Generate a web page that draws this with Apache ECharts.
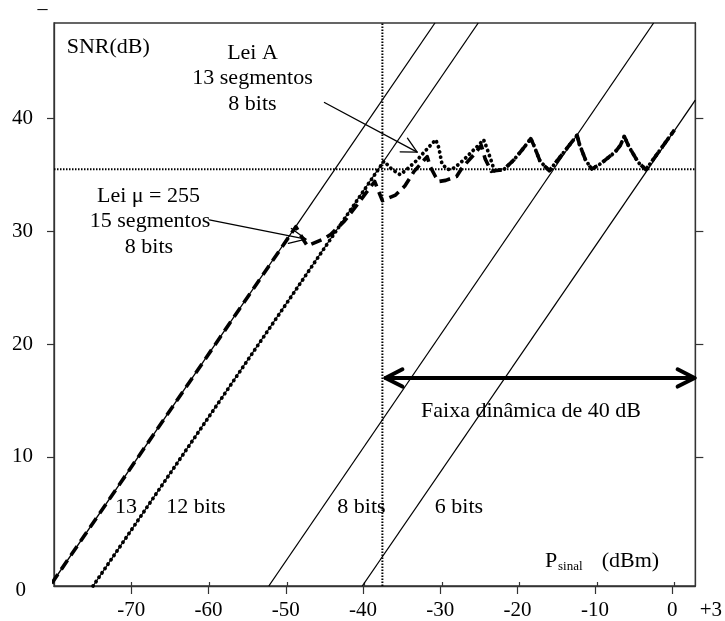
<!DOCTYPE html>
<html><head><meta charset="utf-8">
<script src="https://cdn.jsdelivr.net/npm/echarts@6/dist/echarts.min.js"></script>
<style>html,body{margin:0;padding:0;background:#fff}#c{width:725px;height:621px}</style>
</head><body><div id="c"></div>
<script>
// ---- axes ----
const X_MIN = -80, X_MAX = 3;
const Y_MIN = -1.43, Y_MAX = 48.44;
const xTickValues = [-70, -60, -50, -40, -30, -20, -10, 0];
const xLabelValues = [-70, -60, -50, -40, -30, -20, -10, 0, 3];
const yTickValues = [10, 20, 30, 40];
const yLabelValues = [Y_MIN, 10, 20, 30, 40];

// ---- uniform quantizer lines (P dBm, SNR dB) ----
const bits13 = [[-80.3, -1.2], [-30.7, 48.44]];
const bits12 = [[-74.95, -1.43], [-25.1, 48.44]];
const bits8  = [[-52.2, -1.43], [-2.4, 48.44]];
const bits6  = [[-40.1, -1.43], [3, 41.6]];

// ---- reference lines ----
const refSNR = 35.48;
const refP = -37.5;

// ---- A-law (13 segments, 8 bits) ----
const aLaw = [
  [-74.95, -1.43], [-37.3, 36.2], [-36.3, 35.5], [-35.2, 35.0],
  [-34.3, 35.5], [-33.0, 36.3], [-32.1, 37.0], [-30.6, 38.1],
  [-30.2, 37.4], [-29.8, 36.0], [-29.1, 35.45],
  [-28.2, 35.6], [-27.0, 36.3], [-25.9, 37.05], [-25.0, 37.65], [-24.4, 38.1],
  [-24.0, 37.4], [-23.4, 36.2], [-23.0, 35.35],
  [-21.8, 35.45], [-20.5, 36.3], [-19.3, 37.3], [-18.3, 38.2],
  [-17.9, 37.6], [-17.1, 36.2], [-15.9, 35.35],
  [-12.3, 38.5],
  [-12.0, 37.7], [-11.2, 36.3], [-10.4, 35.5],
  [-9.2, 36.0], [-7.4, 37.0], [-6.7, 37.6], [-6.2, 38.4],
  [-5.6, 37.5], [-4.4, 36.1], [-3.4, 35.45],
  [0.3, 38.97]
];

// ---- mu-law (mu = 255, 15 segments, 8 bits) ----
const muLaw = [
  [-80.3, -1.2], [-48.7, 30.4], [-47.6, 29.1], [-47.2, 28.7],
  [-45.0, 29.35], [-44.2, 29.7], [-42.4, 30.9], [-40.7, 32.4], [-39.5, 33.5], [-38.5, 34.4],
  [-37.5, 32.7], [-35.8, 33.2], [-34.6, 34.0], [-33.4, 35.3], [-32.1, 36.3], [-31.7, 36.6],
  [-31.3, 35.7], [-30.6, 34.8], [-30.2, 34.4],
  [-29.3, 34.5], [-27.9, 34.85], [-27.2, 35.6], [-25.7, 36.75], [-24.7, 37.6],
  [-24.2, 36.4], [-23.4, 35.3], [-23.0, 35.35],
  [-21.8, 35.45], [-20.5, 36.3], [-19.3, 37.3], [-18.3, 38.2],
  [-17.9, 37.6], [-17.1, 36.2], [-15.9, 35.35],
  [-12.3, 38.5],
  [-12.0, 37.7], [-11.2, 36.3], [-10.4, 35.5],
  [-9.2, 36.0], [-7.4, 37.0], [-6.7, 37.6], [-6.2, 38.4],
  [-5.6, 37.5], [-4.4, 36.1], [-3.4, 35.45],
  [0.3, 38.97]
];

// ---- annotation arrows ----
const arrowLeiA  = [[-45.0, 41.4], [-33.0, 37.0]];
const arrowLeiMu = [[-59.9, 31.0], [-47.4, 29.3]];
const arrowRange = [[-37.1, 17.0], [2.9, 17.0]];

const FONT = "'Liberation Serif','Times New Roman',serif";
const INK = '#000';
const AXIS = '#333';

function thinLine(data, z) {
  return { type: 'line', data: data, showSymbol: false, symbol: 'none', silent: true, z: z || 2,
    clip: false, lineStyle: { color: INK, width: 1.3 } };
}

function arrowSeries(pts, opt) {
  return {
    type: 'custom', coordinateSystem: 'cartesian2d', xAxisIndex: 0, yAxisIndex: 0,
    silent: true, clip: false, z: 6,
    data: [[pts[0][0], pts[0][1], pts[1][0], pts[1][1]]],
    renderItem: function (params, api) {
      const a = api.coord([api.value(0), api.value(1)]);
      const b = api.coord([api.value(2), api.value(3)]);
      const st = { stroke: INK, lineWidth: opt.width, lineCap: 'round', lineJoin: 'round', fill: 'none' };
      const head = function (tip, from) {
        const ang = Math.atan2(from[1] - tip[1], from[0] - tip[0]);
        const p1 = [tip[0] + opt.len * Math.cos(ang + opt.ang), tip[1] + opt.len * Math.sin(ang + opt.ang)];
        const p2 = [tip[0] + opt.len * Math.cos(ang - opt.ang), tip[1] + opt.len * Math.sin(ang - opt.ang)];
        return { type: 'polyline', shape: { points: [p1, tip, p2] }, style: st };
      };
      const children = [{ type: 'line', shape: { x1: a[0], y1: a[1], x2: b[0], y2: b[1] }, style: st }, head(b, a)];
      if (opt.double) children.push(head(a, b));
      return { type: 'group', children: children };
    }
  };
}

const chart = echarts.init(document.getElementById('c'), null, { renderer: 'canvas' });

function txt(text, x, y, align, size) {
  return { type: 'text', x: x, y: y, silent: true,
    style: { text: text, fill: INK, font: (size || 22) + 'px ' + FONT, align: align || 'center', verticalAlign: 'middle' } };
}

const gridRect = { left: 54, right: 27, top: 23, bottom: 35 };

chart.setOption({
  animation: false,
  backgroundColor: '#fff',
  grid: [
    Object.assign({ show: true, borderColor: AXIS, borderWidth: 1.3, containLabel: false }, gridRect),
    Object.assign({ show: false, containLabel: false }, gridRect)
  ],
  xAxis: [
    { type: 'value', gridIndex: 0, min: X_MIN, max: X_MAX, position: 'bottom',
      axisLine: { show: true, onZero: false, lineStyle: { color: AXIS, width: 1.3 } },
      axisTick: { show: true, customValues: xTickValues, length: 8, lineStyle: { color: AXIS, width: 1.2 } },
      axisLabel: { show: true, customValues: xLabelValues, color: INK, fontFamily: FONT, fontSize: 21, margin: 14,
        formatter: function (v) { return v === 3 ? '{p|+3}' : String(v); },
        rich: { p: { fontFamily: FONT, fontSize: 21, color: INK, padding: [0, 0, 0, 31] } } },
      splitLine: { show: false } },
    { type: 'value', gridIndex: 1, min: X_MIN, max: X_MAX, position: 'bottom',
      axisLine: { show: false, onZero: false },
      axisTick: { show: true, inside: true, customValues: xTickValues, length: 4, lineStyle: { color: AXIS, width: 1.2 } },
      axisLabel: { show: false }, splitLine: { show: false } }
  ],
  yAxis: [
    { type: 'value', gridIndex: 0, min: Y_MIN, max: Y_MAX, position: 'left',
      axisLine: { show: true, onZero: false, lineStyle: { color: AXIS, width: 1.3 } },
      axisTick: { show: true, customValues: yTickValues, length: 7, lineStyle: { color: AXIS, width: 1.2 } },
      axisLabel: { show: true, customValues: yLabelValues, color: INK, fontFamily: FONT, fontSize: 21, margin: 21,
        formatter: function (v) { return Math.abs(v - Y_MIN) < 1e-6 ? '{z|0}' : String(v); },
        rich: { z: { fontFamily: FONT, fontSize: 21, color: INK, padding: [8, 7, 0, 0] } } },
      splitLine: { show: false } },
    { type: 'value', gridIndex: 0, min: Y_MIN, max: Y_MAX, position: 'right',
      axisLine: { show: true, onZero: false, lineStyle: { color: AXIS, width: 1.3 } },
      axisTick: { show: true, customValues: yTickValues, length: 8, lineStyle: { color: AXIS, width: 1.2 } },
      axisLabel: { show: false }, splitLine: { show: false } },
    { type: 'value', gridIndex: 1, min: Y_MIN, max: Y_MAX, show: false, axisLine: { onZero: false } }
  ],
  series: [
    thinLine(bits13), thinLine(bits12), thinLine(bits8), thinLine(bits6),
    { type: 'line', data: [[X_MIN, refSNR], [X_MAX, refSNR]], showSymbol: false, symbol: 'none', silent: true, z: 2,
      lineStyle: { color: INK, width: 2, type: [1.5, 1.5] } },
    { type: 'line', data: [[refP, Y_MIN], [refP, Y_MAX]], showSymbol: false, symbol: 'none', silent: true, z: 2,
      lineStyle: { color: INK, width: 2, type: [1.5, 1.5] } },
    { type: 'line', data: aLaw, showSymbol: false, symbol: 'none', silent: true, z: 4, clip: false,
      lineStyle: { color: INK, width: 3.8, type: [0.1, 5.2], cap: 'round', join: 'round' } },
    { type: 'line', data: muLaw, showSymbol: false, symbol: 'none', silent: true, z: 3, clip: false,
      lineStyle: { color: INK, width: 3.6, type: [11, 6], cap: 'butt', join: 'round' } },
    arrowSeries(arrowLeiA,  { width: 1.3, len: 17, ang: 27 * Math.PI / 180 }),
    arrowSeries(arrowLeiMu, { width: 1.3, len: 18, ang: 25 * Math.PI / 180 }),
    arrowSeries(arrowRange, { width: 4, len: 19, ang: 27 * Math.PI / 180, double: true })
  ],
  graphic: [
    txt('\u2013', 42.5, 10, 'center', 20),
    txt('SNR(dB)', 66.7, 47.5, 'left'),
    txt('Lei A', 252.5, 53.5),
    txt('13 segmentos', 252.5, 78.5),
    txt('8 bits', 252.5, 104),
    txt('Lei \u03bc = 255', 148.5, 196),
    txt('15 segmentos', 150, 221.5),
    txt('8 bits', 149, 247.5),
    txt('13', 126, 507.5),
    txt('12 bits', 196, 507.5),
    txt('8 bits', 361.5, 507.5),
    txt('6 bits', 459, 507.5),
    txt('Faixa din\u00e2mica de 40 dB', 531, 411.5),
    txt('P', 545, 561.7, 'left'),
    txt('sinal', 558, 566.5, 'left', 13),
    txt('(dBm)', 601.7, 561.7, 'left')
  ]
});
</script>
</body></html>
